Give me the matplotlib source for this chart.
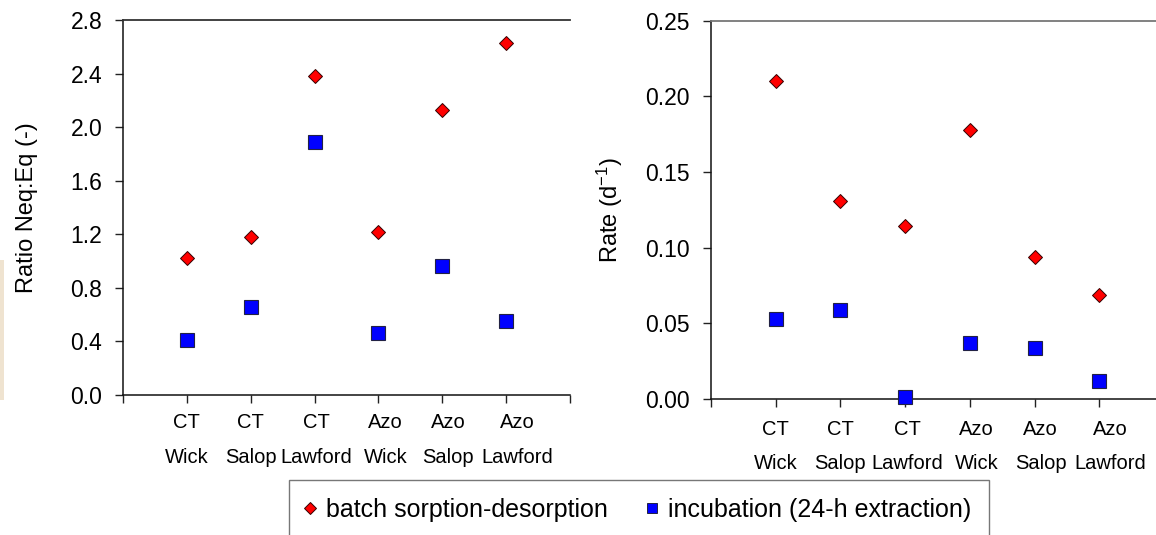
import numpy as np
import matplotlib.pyplot as plt
from matplotlib.lines import Line2D
from matplotlib.patches import Rectangle
from matplotlib.transforms import ScaledTranslation

plt.rcParams['font.family'] = ['Liberation Sans', 'DejaVu Sans']
plt.rcParams['mathtext.fontset'] = 'custom'
plt.rcParams['mathtext.rm'] = 'Liberation Sans'
plt.rcParams['mathtext.it'] = 'Liberation Sans'

categories = ["CT\nWick", "CT\nSalop", "CT\nLawford", "Azo\nWick", "Azo\nSalop", "Azo\nLawford"]

# ratio of non-equilibrium to equilibrium sorption
ratio_batch = [1.02, 1.18, 2.38, 1.22, 2.13, 2.63]
ratio_incub = [0.41, 0.66, 1.89, 0.46, 0.96, 0.55]

# first-order rate constants (d-1)
rate_batch = [0.210, 0.131, 0.114, 0.178, 0.094, 0.069]
rate_incub = [0.053, 0.059, 0.001, 0.037, 0.034, 0.012]

ratio_ticks = [0.0, 0.4, 0.8, 1.2, 1.6, 2.0, 2.4, 2.8]
rate_ticks = [0.00, 0.05, 0.10, 0.15, 0.20, 0.25]

red = '#ff0000'
blue = '#0000ff'

fig = plt.figure(figsize=(11.56, 5.35), dpi=100)
ax1 = fig.add_axes([0.1064, 0.2617, 0.3867, 0.7009])
ax2 = fig.add_axes([0.6150, 0.2542, 0.3919, 0.7071])

x = np.arange(1, len(categories) + 1)
label_shift = [0, 0, 0, 2, 7, 6, 11, 0]  # px, includes the two blank end ticks


def style_axis(ax, yticks, fmt, ylabel, label_x, top_color, pad_x, ls):
    ax.set_xlim(0, 7)
    ax.set_ylim(yticks[0], yticks[-1])
    ax.set_xticks(range(8))
    ax.set_xticklabels([''] + categories + [''], fontsize=14.5, linespacing=ls)
    ax.set_yticks(yticks)
    ax.set_yticklabels([fmt % v for v in yticks], fontsize=16.5)
    ax.tick_params(axis='both', direction='out', length=6, width=1, color='#222222')
    ax.tick_params(axis='x', pad=pad_x)
    ax.tick_params(axis='y', pad=9)
    ax.spines['right'].set_visible(False)
    ax.spines['top'].set_color(top_color)
    ax.spines['top'].set_linewidth(1.3)
    for s in ['left', 'bottom']:
        ax.spines[s].set_linewidth(1.1)
        ax.spines[s].set_color('#111111')
    ax.set_ylabel(ylabel, fontsize=17)
    ax.yaxis.set_label_coords(label_x, 0.5)
    for lbl, dx in zip(ax.get_xticklabels(), label_shift):
        lbl.set_transform(lbl.get_transform() + ScaledTranslation(dx / 100, 0, fig.dpi_scale_trans))


ax1.plot(x, ratio_batch, 'D', ms=7.2, mfc=red, mec='#330000', mew=0.7, clip_on=False, zorder=3)
ax1.plot(x, ratio_incub, 's', ms=9.5, mfc=blue, mec='#222244', mew=0.8, clip_on=False, zorder=3)
style_axis(ax1, ratio_ticks, '%.1f', 'Ratio Neq:Eq (-)', -0.19, '#333333', 7, 2.05)

ax2.plot(x, rate_batch, 'D', ms=7.2, mfc=red, mec='#330000', mew=0.7, clip_on=False, zorder=3)
ax2.plot(x, rate_incub, 's', ms=9.5, mfc=blue, mec='#222244', mew=0.8, clip_on=False, zorder=3)
style_axis(ax2, rate_ticks, '%.2f', r'Rate (d$^{\mathregular{-1}}$)', -0.19, '#777777', 9, 1.98)

handles = [
    Line2D([], [], ls='none', marker='D', ms=6, mfc=red, mec='#330000', mew=0.7),
    Line2D([], [], ls='none', marker='s', ms=7, mfc=blue, mec='#222244', mew=0.7),
]
leg = fig.legend(handles, ['batch sorption-desorption', 'incubation (24-h extraction)'],
                 loc='upper left', bbox_to_anchor=(289 / 1156, 1 - 480 / 535),
                 ncol=2, fontsize=18, frameon=True, fancybox=False, borderaxespad=0,
                 borderpad=0.7, handlelength=0.3, handletextpad=0.5, columnspacing=1.6)
leg.get_frame().set_edgecolor('#555555')
leg.get_frame().set_linewidth(1.0)

# faint tan strip along the left edge
fig.patches.append(Rectangle((0, 1 - 400 / 535), 4 / 1156, 140 / 535, transform=fig.transFigure,
                             facecolor='#efe3d0', edgecolor='none', zorder=0))

fig.savefig('out.png', dpi=100)
plt.close(fig)
